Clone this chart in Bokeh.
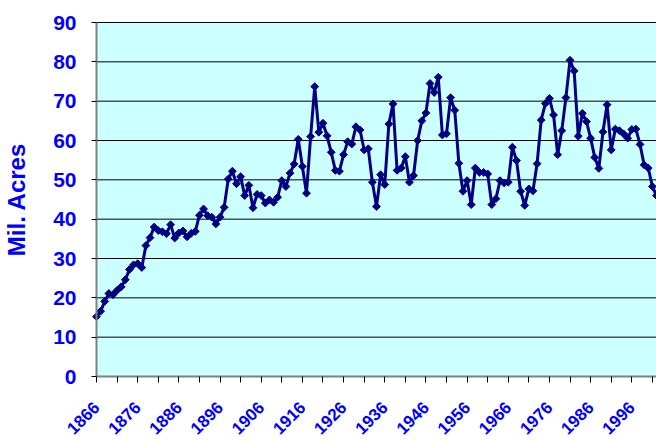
import numpy as np
from bokeh.plotting import figure
from bokeh.models import (Range1d, SingleIntervalTicker, FixedTicker, ColumnDataSource)
from bokeh.embed import file_html
from bokeh.resources import INLINE

# ---- data (million acres of wheat, 1866-2002) ----
years = list(range(1866, 2003))
acres = [
    15.2, 16.6, 19.1, 21.1, 20.8, 21.9, 22.8, 24.6, 27.2, 28.4,   # 1866-1875
    28.7, 27.7, 33.3, 35.3, 38.0, 37.1, 36.8, 36.3, 38.6, 35.2,   # 1876-1885
    36.5, 37.0, 35.5, 36.4, 36.9, 41.0, 42.6, 40.9, 40.5, 38.8,   # 1886-1895
    40.5, 43.0, 50.2, 52.2, 49.0, 50.8, 46.0, 48.6, 42.9, 46.3,   # 1896-1905
    46.0, 44.1, 44.9, 44.3, 45.6, 49.8, 48.3, 51.7, 54.0, 60.3,   # 1906-1915
    53.4, 46.6, 61.0, 73.7, 62.1, 64.4, 61.2, 57.0, 52.4, 52.2,   # 1916-1925
    56.4, 59.7, 59.1, 63.5, 62.7, 57.6, 57.9, 49.4, 43.2, 51.3,   # 1926-1935
    48.8, 64.2, 69.3, 52.4, 53.0, 55.9, 49.4, 51.1, 60.0, 65.0,   # 1936-1945
    67.0, 74.5, 72.2, 76.1, 61.4, 61.7, 70.9, 67.7, 54.2, 47.1,   # 1946-1955
    49.8, 43.7, 53.0, 51.9, 51.9, 51.5, 43.7, 45.2, 49.8, 49.2,   # 1956-1965
    49.4, 58.3, 54.9, 47.1, 43.5, 47.7, 47.2, 54.1, 65.2, 69.4,   # 1966-1975
    70.7, 66.5, 56.4, 62.5, 70.9, 80.4, 77.7, 61.1, 66.9, 64.8,   # 1976-1985
    60.6, 55.7, 52.9, 62.2, 69.1, 57.6, 62.9, 62.5, 61.7, 60.6,   # 1986-1995
    62.8, 62.9, 59.0, 53.8, 53.0, 48.3, 46.0,                     # 1996-2002
]
assert len(acres) == len(years)

label_years = list(range(1866, 1997, 10))          # labelled ticks
minor_years = list(range(1871, 2002, 10))          # unlabelled ticks between
y_min, y_max, y_step = 0, 90, 10
grid_values = list(range(y_min + y_step, y_max + 1, y_step))

BLUE = "#0000FF"
NAVY = "#000080"
CYAN = "#CCFFFF"
FONT = "Liberation Sans"

# layout of the chart area inside the 656x440 canvas (pixels)
W, H = 656, 440
LEFT, TOP, BOTTOM = 96, 22, 376
x0, x1 = years[0], years[-1]
kx = (x1 - x0) / (W - LEFT)
ky = (y_max - y_min) / (BOTTOM - TOP)

# the frame covers the whole canvas; axes are pinned at x=1866 / y=0
p = figure(width=W, height=H, title=None,
           x_range=Range1d(x0 - LEFT * kx, x1),
           y_range=Range1d(y_min - (H - BOTTOM) * ky, y_max + TOP * ky),
           output_backend="svg", toolbar_location=None,
           min_border=0, outline_line_color=None,
           background_fill_color="white", border_fill_color="white")
p.xgrid.visible = False
p.ygrid.visible = False

# plot area background and horizontal gridlines
p.quad(left=x0, right=x1, bottom=y_min, top=y_max, fill_color=CYAN, line_color=None)
p.segment(x0=x0, x1=x1, y0=grid_values, y1=grid_values, line_color="black", line_width=1)

# y axis
ya = p.yaxis[0]
ya.fixed_location = x0
ya.bounds = (y_min, y_max)
ya.ticker = SingleIntervalTicker(interval=y_step, num_minor_ticks=0)
ya.axis_line_color = "#808080"
ya.axis_line_width = 2
ya.major_tick_line_color = "black"
ya.major_tick_out = 5
ya.major_tick_in = 0
ya.minor_tick_line_color = None
ya.major_label_standoff = 15
ya.major_label_text_font = FONT
ya.major_label_text_font_style = "bold"
ya.major_label_text_font_size = "21px"
ya.major_label_text_color = BLUE
ya.axis_label = "Mil. Acres"
ya.axis_label_text_font = FONT
ya.axis_label_text_font_style = "bold"
ya.axis_label_text_font_size = "24px"
ya.axis_label_text_color = BLUE
ya.axis_label_standoff = 20

# x axis
xa = p.xaxis[0]
xa.fixed_location = y_min
xa.bounds = (x0, x1)
xa.ticker = FixedTicker(ticks=label_years, minor_ticks=minor_years)
xa.axis_line_color = "#808080"
xa.axis_line_width = 2
xa.major_tick_line_color = "black"
xa.major_tick_out = 6
xa.major_tick_in = 0
xa.minor_tick_line_color = "black"
xa.minor_tick_out = 6
xa.minor_tick_in = 0
xa.major_label_orientation = np.pi / 4
xa.major_label_standoff = 22
xa.major_label_text_font = FONT
xa.major_label_text_font_style = "bold"
xa.major_label_text_font_size = "17px"
xa.major_label_text_color = BLUE

# series
src = ColumnDataSource(dict(x=years, y=acres))
p.line("x", "y", source=src, line_color=NAVY, line_width=3, line_join="round")
p.scatter("x", "y", source=src, marker="square", angle=np.pi / 4, size=5.5,
          fill_color=NAVY, line_color=NAVY)

open("out.html", "w").write(file_html(p, INLINE))
